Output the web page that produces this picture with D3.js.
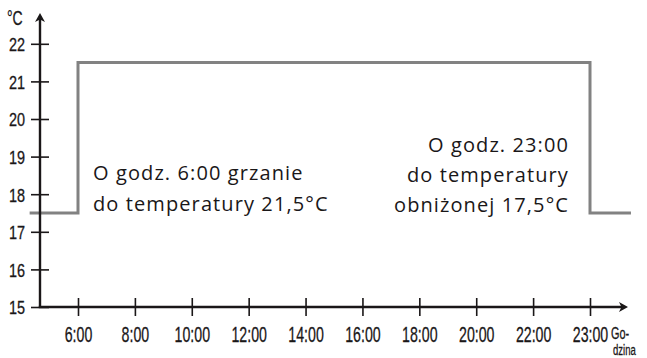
<!DOCTYPE html>
<html>
<head>
<meta charset="utf-8">
<script src="https://cdn.jsdelivr.net/npm/d3@7"></script>
<style>
  html, body { margin: 0; padding: 0; background: #fff; }
  svg { display: block; }
</style>
</head>
<body>
<svg id="chart" width="647" height="358"></svg>
<script>
// Hour labels along the horizontal axis (evenly spaced slots)
const hourLabels = ["6:00", "8:00", "10:00", "12:00", "14:00", "16:00", "18:00", "20:00", "22:00", "23:00"];
// Temperature ticks on the vertical axis
const tempTicks = [15, 16, 17, 18, 19, 20, 21, 22];
// Heating profile: slot position (index into hourLabels) and set temperature, stepped
const profileSlot = [-0.85, 0, 9, 9.72];
const profileTemp = [17.5, 21.5, 17.5, 17.5];
// Annotation lines
const noteMorning = ["O godz. 6:00 grzanie", "do temperatury 21,5°C"];
const noteEvening = ["O godz. 23:00", "do temperatury", "obniżonej 17,5°C"];
const unitLabel = "°C";
const hourAxisTitle = ["Go-", "dzina"];

const svg = d3.select("#chart");
const ink = "#1a1718";
// condensed labels: a regular sans squeezed horizontally
const narrow = "'Liberation Sans', Arial, sans-serif";
const body = "'Open Sans', 'Noto Sans', sans-serif";

const x = d3.scaleLinear().domain([0, hourLabels.length - 1]).range([78, 590]);
const y = d3.scaleLinear().domain([15, 22]).range([307, 43.8]);
const x0 = 40, y0 = y(15);

// Temperature profile
const pts = profileSlot.map((s, i) => [s, profileTemp[i]]);
svg.append("path")
  .datum(pts)
  .attr("fill", "none")
  .attr("stroke", "#828282")
  .attr("stroke-width", 3)
  .attr("d", d3.line().x(d => x(d[0])).y(d => y(d[1])).curve(d3.curveStepAfter));

// Vertical axis with ticks crossing the axis line
const ySqueeze = 0.76;
const yAxis = d3.axisLeft(y).tickValues(tempTicks).tickSize(0).tickFormat(d3.format("d"));
const gy = svg.append("g").attr("transform", `translate(${x0},0)`).call(yAxis);
gy.select(".domain").remove();
gy.selectAll(".tick line").attr("x1", -9).attr("x2", 9).attr("stroke", ink).attr("stroke-width", 1.6);
gy.selectAll(".tick text")
  .attr("fill", ink)
  .attr("stroke", ink).attr("stroke-width", 0.3)
  .attr("x", -15 / ySqueeze)
  .attr("dy", "0.36em")
  .attr("transform", `scale(${ySqueeze},1)`)
  .style("font-family", narrow)
  .style("font-size", "19px");

// Horizontal axis
const xAxis = d3.axisBottom(x).tickValues(d3.range(hourLabels.length)).tickSize(0)
  .tickFormat(i => hourLabels[i]);
const gx = svg.append("g").attr("transform", `translate(0,${y0})`).call(xAxis);
gx.select(".domain").remove();
gx.selectAll(".tick line").attr("y1", -9).attr("y2", 9).attr("stroke", ink).attr("stroke-width", 1.6);
gx.selectAll(".tick text")
  .attr("fill", ink)
  .attr("stroke", ink).attr("stroke-width", 0.3)
  .attr("y", 35)
  .attr("dy", 0)
  .attr("transform", "scale(0.63,1)")
  .style("font-family", narrow)
  .style("font-size", "22.5px");

// Axis lines with arrowheads
svg.append("line").attr("x1", x0).attr("y1", y0).attr("x2", x0).attr("y2", 18)
  .attr("stroke", ink).attr("stroke-width", 2.4);
svg.append("line").attr("x1", x0 - 1.2).attr("y1", y0).attr("x2", 622).attr("y2", y0)
  .attr("stroke", ink).attr("stroke-width", 2.4);
svg.append("path").attr("fill", ink)
  .attr("d", `M${x0},13 L${x0 + 5},22 L${x0},19.5 L${x0 - 5},22 Z`);
svg.append("path").attr("fill", ink)
  .attr("d", `M628,${y0} L619,${y0 - 5} L621.5,${y0} L619,${y0 + 5} Z`);

// Unit and axis titles
svg.append("text").attr("transform", "translate(7,25) scale(0.7,1)").attr("fill", ink)
  .attr("stroke", ink).attr("stroke-width", 0.3)
  .style("font-family", narrow).style("font-size", "20px").text(unitLabel);
svg.append("g").attr("transform", "translate(611,0) scale(0.68,1)")
  .selectAll("text").data(hourAxisTitle).join("text")
  .attr("x", (d, i) => i * 3).attr("y", (d, i) => i ? 355 : 339)
  .attr("fill", ink)
  .attr("stroke", ink).attr("stroke-width", 0.3)
  .style("font-family", narrow).style("font-size", (d, i) => i ? "14px" : "16px")
  .text(d => d);

// Annotations
svg.append("g").selectAll("text").data(noteMorning).join("text")
  .attr("x", 93).attr("y", (d, i) => 180 + i * 31)
  .attr("fill", ink)
  .style("font-family", body).style("font-size", "20px").style("letter-spacing", "1.1px")
  .text(d => d);
svg.append("g").selectAll("text").data(noteEvening).join("text")
  .attr("x", 569).attr("y", (d, i) => 152 + i * 30)
  .attr("text-anchor", "end")
  .attr("fill", ink)
  .style("font-family", body).style("font-size", "20px").style("letter-spacing", "1.1px")
  .text(d => d);
</script>
</body>
</html>
